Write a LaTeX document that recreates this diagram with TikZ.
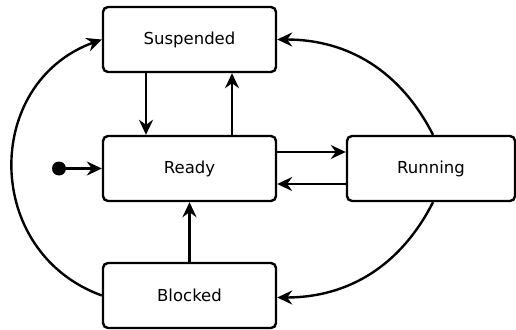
\documentclass[tikz,border=0pt]{standalone}
\usepackage{fontspec}
\setmainfont{DejaVu Sans}
\usetikzlibrary{arrows.meta}

\begin{document}
\begin{tikzpicture}[x=1pt,y=-1pt,line width=2.4pt,
	state/.style={draw,rounded corners=5pt,minimum width=173pt,minimum height=65pt,inner sep=0,font=\fontsize{16.5}{19}\selectfont},
	trans/.style={-{Stealth[length=15pt,width=14pt,inset=5pt]}}]
	\useasboundingbox (0,0) rectangle (516,329);
	\node[state] (susp) at (189.5,39.5) {Suspended};
	\node[state] (ready) at (189.5,168.5) {Ready};
	\node[state,minimum width=168pt] (run) at (431,168.5) {Running};
	\node[state] (block) at (189.5,295.5) {Blocked};
	\node[circle,fill=black,inner sep=0,outer sep=0,minimum size=14pt] (init) at (59,168.5) {};
	\draw[trans] (init) -- (ready);
	\draw[trans] ([xshift=-43.5pt]susp.south) -- ([xshift=-43.5pt]ready.north);
	\draw[trans] ([xshift=42.5pt]ready.north) -- ([xshift=42.5pt]susp.south);
	\draw[trans] ([yshift=16.5pt]ready.east) -- ([yshift=16.5pt]run.west);
	\draw[trans] ([yshift=-15.5pt]run.west) -- ([yshift=-15.5pt]ready.east);
	\draw[trans] (block) -- (ready);
	\draw[trans] (block.west) to[out=160,in=200,looseness=1.27] (susp.west);
	\draw[trans] ([xshift=2pt]run.north) to[out=117,in=0] (susp.east);
	\draw[trans] ([xshift=2pt]run.south) to[out=-117,in=0] ([yshift=-2pt]block.east);
\end{tikzpicture}
\end{document}
